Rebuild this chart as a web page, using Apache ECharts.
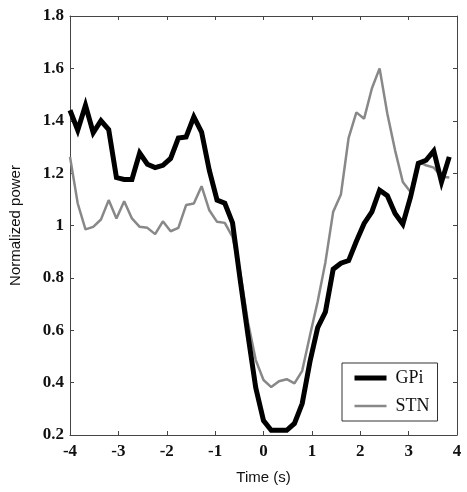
<!DOCTYPE html>
<html>
<head>
<meta charset="utf-8">
<script src="https://cdn.jsdelivr.net/npm/echarts@6/dist/echarts.min.js"></script>
<style>
  html, body { margin: 0; padding: 0; background: #fff; }
  #chart { width: 467px; height: 492px; }
</style>
</head>
<body>
<div id="chart"></div>
<script>
// sample times (s)
var times = [-4, -3.84, -3.68, -3.52, -3.36, -3.2, -3.04, -2.88, -2.72, -2.56,
  -2.4, -2.24, -2.08, -1.92, -1.76, -1.6, -1.44, -1.28, -1.12, -0.96,
  -0.8, -0.64, -0.48, -0.32, -0.16, 0, 0.16, 0.32, 0.48, 0.64,
  0.8, 0.96, 1.12, 1.28, 1.44, 1.6, 1.76, 1.92, 2.08, 2.24,
  2.4, 2.56, 2.72, 2.88, 3.04, 3.2, 3.36, 3.52, 3.68, 3.84]

var gpi = [1.44, 1.364, 1.459, 1.354, 1.40, 1.366, 1.183, 1.176, 1.176, 1.277,
  1.234, 1.221, 1.23, 1.256, 1.334, 1.338, 1.415, 1.357, 1.21, 1.097,
  1.085, 1.01, 0.79, 0.58, 0.38, 0.255, 0.218, 0.218, 0.218, 0.244,
  0.32, 0.48, 0.61, 0.67, 0.833, 0.856, 0.866, 0.94, 1.008, 1.052,
  1.135, 1.114, 1.046, 1.005, 1.109, 1.237, 1.249, 1.285, 1.166, 1.262]

var stn = [1.262, 1.084, 0.985, 0.995, 1.023, 1.097, 1.027, 1.093, 1.027, 0.995,
  0.991, 0.967, 1.016, 0.978, 0.991, 1.078, 1.084, 1.15, 1.058, 1.014,
  1.01, 0.956, 0.82, 0.63, 0.486, 0.41, 0.383, 0.405, 0.413, 0.397,
  0.445, 0.58, 0.71, 0.86, 1.052, 1.118, 1.335, 1.432, 1.408, 1.523,
  1.60, 1.427, 1.287, 1.166, 1.128, 1.243, 1.23, 1.221, 1.186, 1.183]

var xMin = -4, xMax = 4, xStep = 1
var yMin = 0.2, yMax = 1.8, yStep = 0.2

var tickFont = { fontFamily: 'Liberation Serif', fontWeight: 'bold', fontSize: 17, color: '#111' }
var frame = { show: true, onZero: false, lineStyle: { color: '#444', width: 1 } }
var ticksIn = { show: true, inside: true, length: 4, lineStyle: { color: '#444' } }

function pairs(vals) {
    return times.map(function (t, i) { return [t, vals[i]] })
}

var chart = echarts.init(document.getElementById('chart'))
chart.setOption({
    animation: false,
    backgroundColor: '#fff',
    grid: { left: 69, right: 10, top: 16, bottom: 57 },
    legend: {
        orient: 'vertical',
        left: 342, top: 363,
        backgroundColor: '#fff',
        borderColor: '#333', borderWidth: 1, borderRadius: 0,
        padding: [6, 8, 6, 10],
        itemWidth: 32, itemHeight: 14, itemGap: 10,
        textStyle: { fontFamily: 'Liberation Serif', fontSize: 18, color: '#111', padding: [0, 0, 0, 4] },
        data: [
            { name: 'GPi', itemStyle: { opacity: 0 }, lineStyle: { color: '#000', width: 5 } },
            { name: 'STN', itemStyle: { opacity: 0 }, lineStyle: { color: '#888', width: 2.5 } }
        ]
    },
    xAxis: [{
        type: 'value', position: 'bottom',
        min: xMin, max: xMax, interval: xStep,
        name: 'Time (s)', nameLocation: 'middle', nameGap: 35,
        nameTextStyle: { fontFamily: 'Liberation Sans', fontSize: 15, color: '#111' },
        axisLine: frame, axisTick: ticksIn,
        axisLabel: Object.assign({ margin: 8 }, tickFont),
        splitLine: { show: false }
    }, {
        type: 'value', position: 'top',
        min: xMin, max: xMax, interval: xStep,
        axisLine: frame, axisTick: ticksIn,
        axisLabel: { show: false }, splitLine: { show: false }
    }],
    yAxis: [{
        type: 'value', position: 'left',
        min: yMin, max: yMax, interval: yStep,
        name: 'Normalized power', nameLocation: 'middle', nameGap: 47,
        nameTextStyle: { fontFamily: 'Liberation Sans', fontSize: 15, color: '#111' },
        axisLine: frame, axisTick: ticksIn,
        axisLabel: Object.assign({ margin: 6 }, tickFont),
        splitLine: { show: false }
    }, {
        type: 'value', position: 'right',
        min: yMin, max: yMax, interval: yStep,
        axisLine: frame, axisTick: ticksIn,
        axisLabel: { show: false }, splitLine: { show: false }
    }],
    series: [{
        name: 'GPi', type: 'line', symbol: 'none',
        lineStyle: { color: '#000', width: 5, join: 'miter' },
        itemStyle: { color: '#000' },
        data: pairs(gpi), z: 3
    }, {
        name: 'STN', type: 'line', symbol: 'none',
        lineStyle: { color: '#888', width: 2.5 },
        itemStyle: { color: '#888' },
        data: pairs(stn), z: 2
    }]
})
</script>
</body>
</html>
